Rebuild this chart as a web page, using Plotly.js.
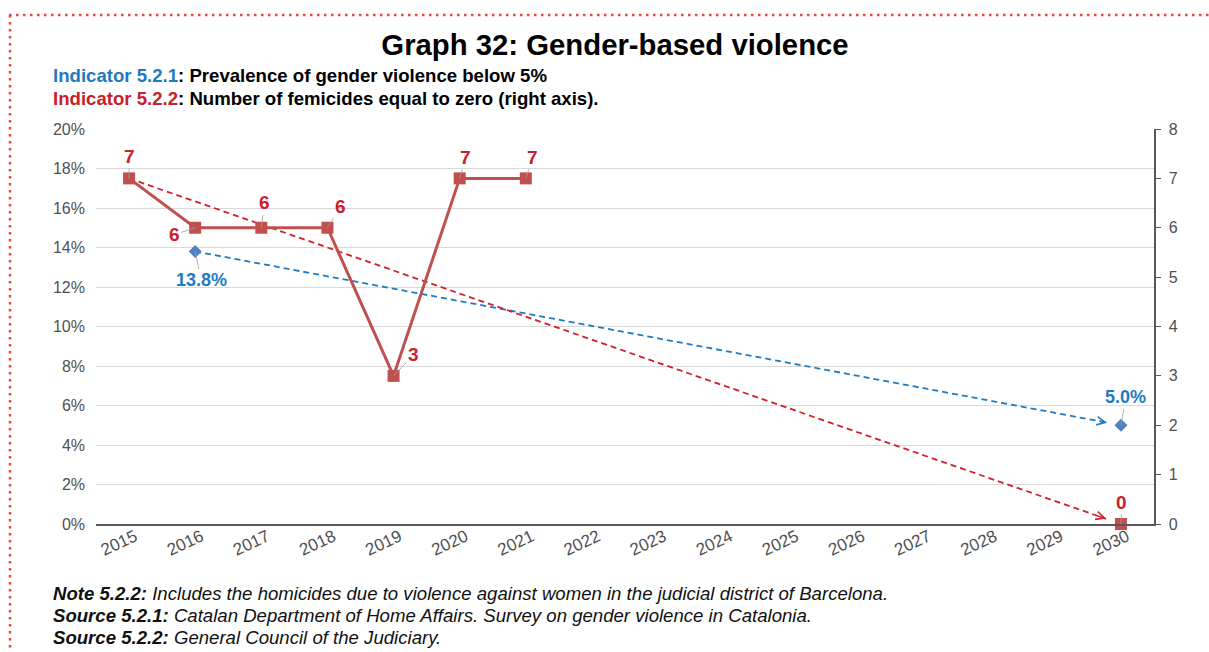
<!DOCTYPE html>
<html>
<head>
<meta charset="utf-8">
<script src="https://cdn.plot.ly/plotly-3.0.1.min.js"></script>
<style>
  html, body { margin: 0; padding: 0; background: #fff; }
  #chart { width: 1209px; height: 652px; }
</style>
</head>
<body>
<div id="chart"></div>
<script>
// ---------- DATA ----------
const years = [2015, 2016, 2017, 2018, 2019, 2020, 2021, 2022, 2023, 2024, 2025, 2026, 2027, 2028, 2029, 2030];
const yearLabels = years.map(String);

// Indicator 5.2.1: prevalence of gender violence (%), left axis
const prevYears = [2016];
const prevValues = [13.8];
const prevTargetYear = [2030];
const prevTargetValue = [5.0];

// Indicator 5.2.2: number of femicides, right axis
const femYears = [2015, 2016, 2017, 2018, 2019, 2020, 2021];
const femValues = [7, 6, 6, 6, 3, 7, 7];
const femTargetYear = [2030];
const femTargetValue = [0];

const leftTicks = [0, 2, 4, 6, 8, 10, 12, 14, 16, 18, 20];
const rightTicks = [0, 1, 2, 3, 4, 5, 6, 7, 8];

// ---------- STYLE / LAYOUT HELPERS ----------
const W = 1209, H = 652;
const M = { l: 96, r: 55, t: 129, b: 128 };
const PW = W - M.l - M.r, PH = H - M.t - M.b;
const px2x = X => (X - M.l) / PW;
const py2y = Y => (H - M.b - Y) / PH;

const RED_LINE = '#c0504d';
const RED_TXT = '#c8202c';
const RED_TREND = '#d0202a';
const BLUE_MK = '#4f81bd';
const BLUE_TXT = '#1f7bc1';
const BLUE_TREND = '#1f7bc1';
const FONT = '"Liberation Sans", Arial, Helvetica, sans-serif';
const TICKFONT = { family: FONT, size: 16, color: '#505050' };

const GAP = 0.985; // trend arrow stops a little short of target marker

function trendEnd(x0, y0, x1, y1, f) {
  return [x0 + f * (x1 - x0), y0 + f * (y1 - y0)];
}

const bStart = [prevYears[0], prevValues[0]];
const bEndT = [prevTargetYear[0], prevTargetValue[0]];
const rStart = [femYears[0], femValues[0]];
const rEndT = [femTargetYear[0], femTargetValue[0]];
const bEnd = trendEnd(bStart[0], bStart[1], bEndT[0], bEndT[1], GAP);
const rEnd = trendEnd(rStart[0], rStart[1], rEndT[0], rEndT[1], GAP);
const bPre = trendEnd(bStart[0], bStart[1], bEndT[0], bEndT[1], GAP - 0.01);
const rPre = trendEnd(rStart[0], rStart[1], rEndT[0], rEndT[1], GAP - 0.01);

const traces = [
  { x: [bStart[0], bEnd[0]], y: [bStart[1], bEnd[1]], type: 'scatter', mode: 'lines', yaxis: 'y',
    line: { color: BLUE_TREND, width: 1.8, dash: '6px,4px' }, hoverinfo: 'skip' },
  { x: [rStart[0], rEnd[0]], y: [rStart[1], rEnd[1]], type: 'scatter', mode: 'lines', yaxis: 'y2',
    line: { color: RED_TREND, width: 1.8, dash: '6px,4px' }, hoverinfo: 'skip' },
  { x: femYears, y: femValues, type: 'scatter', mode: 'lines+markers', yaxis: 'y2',
    line: { color: RED_LINE, width: 3 },
    marker: { symbol: 'square', size: 12, color: RED_LINE }, cliponaxis: false },
  { x: femTargetYear, y: femTargetValue, type: 'scatter', mode: 'markers', yaxis: 'y2',
    marker: { symbol: 'square', size: 12, color: RED_LINE }, cliponaxis: false },
  { x: prevYears.concat(prevTargetYear), y: prevValues.concat(prevTargetValue),
    type: 'scatter', mode: 'markers', yaxis: 'y',
    marker: { symbol: 'diamond', size: 10, color: BLUE_MK }, cliponaxis: false }
];

const femOffsets = [[0, -22], [-21, 7], [3, -25], [13, -21], [20, -21], [6, -21], [7, -21]];
const annotations = [];
const lbl = (x, y, yref, text, ax, ay, color, size) => ({
  x: x, y: y, xref: 'x', yref: yref, text: '<b>' + text + '</b>',
  showarrow: true, arrowhead: 0, arrowwidth: 0.8, arrowcolor: '#a0a0a0',
  ax: ax, ay: ay, standoff: 0,
  font: { family: FONT, size: size, color: color }
});
femYears.forEach((yr, i) => annotations.push(lbl(yr, femValues[i], 'y2', femValues[i], femOffsets[i][0], femOffsets[i][1], RED_TXT, 19)));
annotations.push(lbl(femTargetYear[0], femTargetValue[0], 'y2', femTargetValue[0], 1, -22, RED_TXT, 19));
annotations.push(lbl(prevYears[0], prevValues[0], 'y', prevValues[0].toFixed(1) + '%', 6, 29, BLUE_TXT, 18));
annotations.push(lbl(prevTargetYear[0], prevTargetValue[0], 'y', prevTargetValue[0].toFixed(1) + '%', 5, -28, BLUE_TXT, 18));

annotations.push({
  x: bEnd[0], y: bEnd[1], xref: 'x', yref: 'y', axref: 'x', ayref: 'y', ax: bPre[0], ay: bPre[1],
  showarrow: true, arrowhead: 5, arrowwidth: 1.5, arrowsize: 1.1, arrowcolor: BLUE_TREND, text: ''
});
annotations.push({
  x: rEnd[0], y: rEnd[1], xref: 'x', yref: 'y2', axref: 'x', ayref: 'y2', ax: rPre[0], ay: rPre[1],
  showarrow: true, arrowhead: 5, arrowwidth: 1.5, arrowsize: 1.1, arrowcolor: RED_TREND, text: ''
});

annotations.push({
  xref: 'paper', yref: 'paper', x: px2x(51), y: py2y(76), xanchor: 'left', yanchor: 'middle', showarrow: false,
  text: '<b><span style="color:' + BLUE_TXT + '">Indicator 5.2.1</span>: Prevalence of gender violence below 5%</b>',
  font: { family: FONT, size: 18.6, color: '#000' }
});
annotations.push({
  xref: 'paper', yref: 'paper', x: px2x(51), y: py2y(98), xanchor: 'left', yanchor: 'middle', showarrow: false,
  text: '<b><span style="color:' + RED_TXT + '">Indicator 5.2.2</span>: Number of femicides equal to zero (right axis).</b>',
  font: { family: FONT, size: 18.6, color: '#000' }
});
const notes = [
  ['Note 5.2.2:', ' Includes the homicides due to violence against women in the judicial district of Barcelona.', 593],
  ['Source 5.2.1:', ' Catalan Department of Home Affairs. Survey on gender violence in Catalonia.', 615],
  ['Source 5.2.2:', ' General Council of the Judiciary.', 637]
];
notes.forEach(n => annotations.push({
  xref: 'paper', yref: 'paper', x: px2x(51), y: py2y(n[2]), xanchor: 'left', yanchor: 'middle', showarrow: false,
  text: '<i><b>' + n[0] + '</b>' + n[1] + '</i>',
  font: { family: FONT, size: 18.6, color: '#111' }
}));

const dotted = { color: '#e8453c', width: 2.5, dash: '2.5px,4.5px' };
const shapes = [
  { type: 'line', xref: 'paper', yref: 'paper', x0: px2x(9), x1: px2x(1209), y0: py2y(15), y1: py2y(15), line: dotted },
  { type: 'line', xref: 'paper', yref: 'paper', x0: px2x(10), x1: px2x(10), y0: py2y(15), y1: py2y(652), line: dotted }
];

const layout = {
  width: W, height: H,
  margin: M,
  paper_bgcolor: '#fff', plot_bgcolor: '#fff',
  showlegend: false,
  title: {
    text: '<b>Graph 32: Gender-based violence</b>',
    x: 615 / W, xref: 'container', xanchor: 'center',
    y: 1 - 45 / H, yref: 'container', yanchor: 'middle',
    font: { family: FONT, size: 29.3, color: '#000' }
  },
  xaxis: {
    type: 'linear', range: [years[0] - 0.5, years[years.length - 1] + 0.5],
    tickvals: years, ticktext: yearLabels, tickangle: -25,
    showgrid: false, zeroline: false,
    showline: true, linecolor: '#595959', linewidth: 1.5,
    ticks: '', tickfont: Object.assign({}, TICKFONT, { size: 17 }),
    ticklabelshift: 6, ticklabelstandoff: -5
  },
  yaxis: {
    range: [0, 20], tickvals: leftTicks, ticktext: leftTicks.map(v => v + '%'),
    showgrid: true, gridcolor: '#d9d9d9', gridwidth: 1, zeroline: false,
    showline: false, ticks: '', ticklabelstandoff: 10,
    tickfont: TICKFONT
  },
  yaxis2: {
    range: [0, 8], tickvals: rightTicks, overlaying: 'y', side: 'right',
    showgrid: false, zeroline: false, showline: true, linecolor: '#595959', linewidth: 1.5,
    ticks: 'outside', ticklen: 5, tickcolor: '#595959', ticklabelstandoff: 5,
    tickfont: TICKFONT
  },
  annotations: annotations,
  shapes: shapes
};

Plotly.newPlot('chart', traces, layout, { displayModeBar: false, staticPlot: true });
</script>
</body>
</html>
